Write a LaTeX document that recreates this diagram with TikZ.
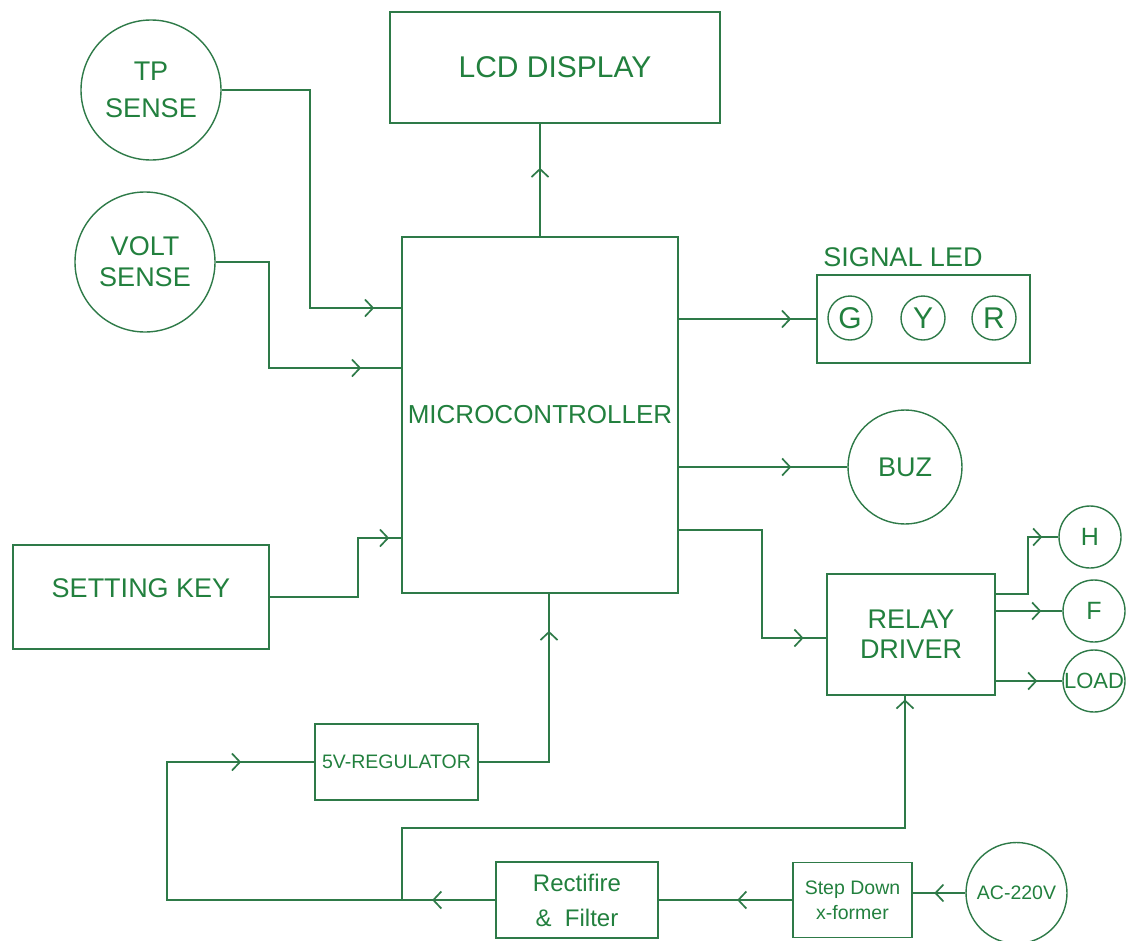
\documentclass[tikz,border=0pt]{standalone}
\usepackage{fontspec}
\setmainfont{Liberation Sans}
\usetikzlibrary{positioning,arrows.meta,decorations.markings}
\definecolor{wire}{RGB}{46,122,72}
\definecolor{ink}{RGB}{34,128,62}

\begin{document}
\begin{tikzpicture}
		[x=1pt, y=-1pt, line width=1.7pt, color=wire, text=ink,
		font=\fontsize{27}{31}\selectfont,
		box/.style={draw, rectangle, inner sep=0pt, align=center},
		blob/.style={draw, circle, inner sep=0pt, align=center, line width=1.4pt},
		arr/.style={postaction={decorate, decoration={markings,
			mark=at position #1 with {\arrow{Straight Barb[length=8pt,width=17pt]}}}}}]
		\useasboundingbox (0,0) rectangle (1127,940);

		\node[blob, minimum size=140pt] (tp) at (151,90) {TP\\[6pt]SENSE};
		\node[blob, minimum size=140pt] (volt) at (145,262) {VOLT\\SENSE};
		\node[box, minimum width=330pt, minimum height=111pt, font=\fontsize{30}{34}\selectfont] (lcd) at (555,67.5) {LCD DISPLAY};
		\node[box, minimum width=276pt, minimum height=356pt, font=\fontsize{26}{30}\selectfont] (mcu) at (540,415) {MICROCONTROLLER};
		\node[box, line width=2.8pt, minimum width=256pt, minimum height=104pt,
			label={[yshift=9pt]center:SETTING KEY}] (key) at (141,597) {};

		\node[box, minimum width=213pt, minimum height=88pt] (led) at (923.5,319) {};
		\node (ledname) at (903,257) {SIGNAL LED};
		\node[blob, minimum size=44pt, font=\fontsize{30}{34}\selectfont] (ledg) at (850,318) {G};
		\node[blob, minimum size=44pt, font=\fontsize{30}{34}\selectfont] (ledy) at (923,318) {Y};
		\node[blob, minimum size=44pt, font=\fontsize{30}{34}\selectfont] (ledr) at (994,318) {R};
		\node[blob, minimum size=114pt] (buz) at (905,467) {BUZ};

		\node[box, line width=2.8pt, minimum width=168pt, minimum height=121pt, font=\fontsize{27}{30}\selectfont] (relay) at (911,634.5) {RELAY\\DRIVER};
		\node[blob, minimum size=62pt, font=\fontsize{25}{28}\selectfont] (heat) at (1090,537) {H};
		\node[blob, minimum size=62pt, font=\fontsize{25}{28}\selectfont] (fan) at (1094,611) {F};
		\node[blob, minimum size=62pt, font=\fontsize{22}{26}\selectfont] (load) at (1094,681) {LOAD};

		\node[box, minimum width=163pt, minimum height=76pt, font=\fontsize{19.5}{23}\selectfont] (reg) at (396.5,762) {5V-REGULATOR};
		\node[box, minimum width=162pt, minimum height=76pt, font=\fontsize{24}{35}\selectfont] (rect) at (577,900) {Rectifire\\\&\ \ Filter};
		\node[box, minimum width=119pt, minimum height=75pt, font=\fontsize{19.5}{25}\selectfont] (step) at (852.5,900) {Step Down\\x-former};
		\node[blob, minimum size=101pt, font=\fontsize{19.5}{23}\selectfont] (ac) at (1016.5,893) {AC-220V};

		\draw[arr=-27pt] (tp.east) -| (310,308) -- (mcu.west |- 0,308);
		\draw[arr=-40pt] (volt.east) -| (269,368) -- (mcu.west |- 0,368);
		\draw[arr=-12pt] (key.east) -| (358,538) -- (mcu.west |- 0,538);
		\draw[arr=-44pt] (mcu.north) -- (mcu.north |- lcd.south);
		\draw[arr=-25pt] (mcu.east |- led.west) -- (led.west);
		\draw[arr=-56pt] (mcu.east |- buz.west) -- (buz.west);
		\draw[arr=-22pt] (mcu.east |- 0,530) -| (762,638) -- (relay.west |- 0,638);
		\draw[arr=-16pt] (relay.east |- 0,594) -| (1028,537) -- (heat.west);
		\draw[arr=-21pt] (relay.east |- fan.west) -- (fan.west);
		\draw[arr=-25pt] (relay.east |- load.west) -- (load.west);
		\draw[arr=-37pt] (reg.east) -| (mcu.south -| 549,0);

		\coordinate (tap) at (402,900);
		\draw[arr=63pt, arr=-73pt] (rect.west) -| (167,762) -- (reg.west);
		\draw[arr=-3pt] (tap) |- (905,828) -- (relay.south -| 905,0);
		\draw[arr=55pt] (step.west) -- (step.west -| rect.east);
		\draw[arr=31pt] (ac.west) -- (ac.west -| step.east);
	\end{tikzpicture}
\end{document}
